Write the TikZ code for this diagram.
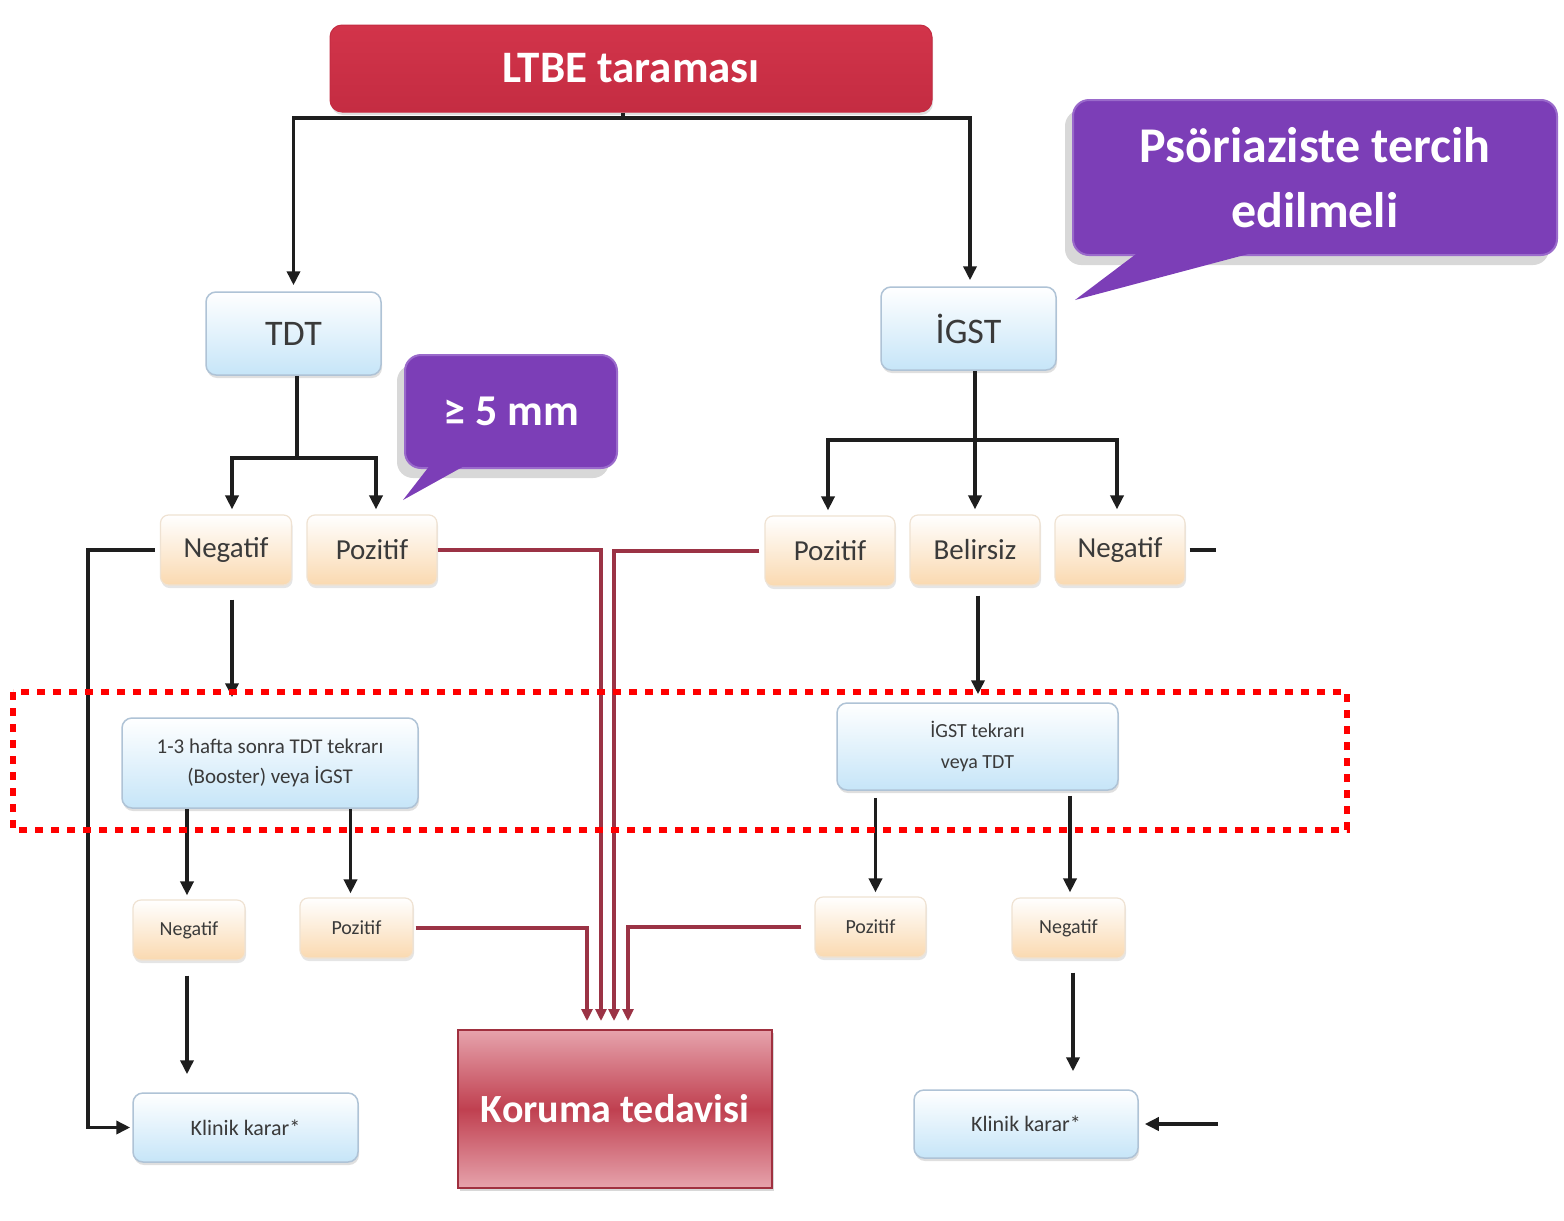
\documentclass[tikz,border=0pt]{standalone}
\usepackage{fontspec}
\setmainfont{Carlito}
\usetikzlibrary{arrows.meta,shadows,calc}
\definecolor{headred}{HTML}{D2344A}
\definecolor{headred2}{HTML}{C42C42}
\definecolor{korin}{HTML}{C04050}
\definecolor{korout}{HTML}{E6A3AC}
\definecolor{koredge}{HTML}{A0303F}
\definecolor{lblue}{HTML}{C6E5F8}
\definecolor{bedge}{HTML}{AFC3D6}
\definecolor{peach}{HTML}{FAD9B0}
\definecolor{pedge}{HTML}{EFE2D2}
\definecolor{txtc}{HTML}{3A3A3A}
\definecolor{lnc}{HTML}{1E1E1E}
\definecolor{lnred}{HTML}{9B3345}
\definecolor{purp}{HTML}{7C3EB7}
\definecolor{purpedge}{HTML}{9A6ACB}
\newcommand{\fsz}[2]{\fontsize{#1}{#2}\selectfont}
\tikzset{
  bluebox/.style={rounded corners=10pt, draw=bedge, line width=1.5pt, top color=white, bottom color=lblue,
    text=txtc, align=center, inner sep=0pt,
    drop shadow={shadow xshift=1pt, shadow yshift=-3pt, opacity=.25}},
  peachbox/.style={rounded corners=8pt, draw=pedge, line width=1.2pt, top color=white, bottom color=peach,
    text=txtc, align=center, inner sep=0pt,
    drop shadow={shadow xshift=1pt, shadow yshift=-3pt, opacity=.2}},
  calloutbox/.style={rounded corners=16pt, fill=purp, draw=purpedge, line width=2pt, text=white,
    align=center, inner sep=0pt, font=\bfseries,
    drop shadow={shadow xshift=-8pt, shadow yshift=-10pt, opacity=.3, fill=gray}},
  blk/.style={line width=3.6pt, draw=lnc},
  arr/.style={blk, -{Triangle[length=14pt,width=13pt]}},
  redln/.style={line width=3.6pt, draw=lnred, -{Triangle[length=12pt,width=11pt]}},
}
\begin{document}
\begin{tikzpicture}[x=1pt,y=-1pt]
\useasboundingbox (0,0) rectangle (1564,1221);
\fill[white] (0,0) rectangle (1564,1221);

% header
\node[rounded corners=12pt, top color=headred, bottom color=headred2, draw=headred2, line width=1pt,
  minimum width=602pt, minimum height=87pt, text=white, font=\bfseries\fsz{45}{54},
  drop shadow={shadow xshift=1pt, shadow yshift=-3pt, opacity=.25}] (ltbe) at (631,68.5) {LTBE taraması};

% level 2
\node[bluebox, minimum width=175pt, minimum height=83pt, font=\fsz{36}{44}] (tdt) at (293.5,333.5) {TDT};
\node[bluebox, minimum width=175pt, minimum height=83pt, font=\fsz{36}{44}] (igst) at (968.5,328.5) {İGST};

% level 3
\node[peachbox, minimum width=131pt, minimum height=70pt, font=\fsz{29}{35}] (negL) at (226,550) {Negatif};
\node[peachbox, minimum width=130pt, minimum height=70pt, font=\fsz{29}{35}] (posL) at (372,550) {Pozitif};
\node[peachbox, minimum width=130pt, minimum height=70pt, font=\fsz{29}{35}] (posR) at (830,551) {Pozitif};
\node[peachbox, minimum width=130pt, minimum height=70pt, font=\fsz{29}{35}] (bel) at (975,550) {Belirsiz};
\node[peachbox, minimum width=130pt, minimum height=70pt, font=\fsz{29}{35}] (negR) at (1120,550) {Negatif};

% level 4
\node[bluebox, minimum width=296pt, minimum height=90pt, font=\fsz{21}{30}] (booster) at (270,763)
  {1-3 hafta sonra TDT tekrarı\\(Booster) veya İGST};
\node[bluebox, minimum width=281pt, minimum height=87pt, font=\fsz{20}{31}] (igst2) at (977.5,746.5)
  {İGST tekrarı\\veya TDT};

% level 5
\node[peachbox, minimum width=112pt, minimum height=60pt, font=\fsz{20}{24}] (negSL) at (189,930) {Negatif};
\node[peachbox, minimum width=113pt, minimum height=60pt, font=\fsz{20}{24}] (posSL) at (356.5,928) {Pozitif};
\node[peachbox, minimum width=111pt, minimum height=60pt, font=\fsz{20}{24}] (posSR) at (870.5,927) {Pozitif};
\node[peachbox, minimum width=113pt, minimum height=60pt, font=\fsz{20}{24}] (negSR) at (1068.5,928) {Negatif};

% level 6
\node[bluebox, minimum width=225pt, minimum height=69pt, font=\fsz{22}{26}] (klinL) at (245.5,1127.5) {Klinik karar*};
\node[bluebox, minimum width=224pt, minimum height=68pt, font=\fsz{22}{26}] (klinR) at (1026,1124) {Klinik karar*};
\node[shading=axis, top color=korout, bottom color=korout, middle color=korin, draw=koredge, line width=2.5pt,
  minimum width=314pt, minimum height=158pt, text=white, font=\bfseries\fsz{40}{48},
  drop shadow={shadow xshift=2pt, shadow yshift=-3pt, opacity=.3}] (kor) at (615,1109) {Koruma tedavisi};

% callouts
\node[calloutbox, minimum width=212pt, minimum height=113pt, font=\bfseries\fsz{44}{52}] (c5) at (511,411.5) {≥ 5 mm};
\fill[purp] (438,455) -- (484,455) -- (403,500) -- cycle;
\node[calloutbox, minimum width=484pt, minimum height=155pt, font=\bfseries\fsz{50}{65}] (cps) at (1315,177.5)
  {Psöriaziste tercih\\edilmeli};
\fill[purp] (1148,245) -- (1282,245) -- (1075,300) -- cycle;

% black connectors
\coordinate (topj) at (623,118);
\draw[blk] (topj |- ltbe.south) -- (topj);
\draw[arr, shorten >=6pt] (topj) -| (tdt.north);
\draw[arr, shorten >=6pt] (topj) -| ([xshift=1.5pt]igst.north);

\coordinate (tdtj) at (297,458);
\draw[blk] (tdt.south -| tdtj) -- (tdtj);
\draw[arr, shorten >=5pt] (tdtj) -| ([xshift=6pt]negL.north);
\draw[arr, shorten >=5pt] (tdtj) -| ([xshift=4pt]posL.north);

\coordinate (igj) at (975,440);
\draw[blk] (igst.south -| igj) -- (igj);
\draw[arr, shorten >=5pt] (igj) -| ([xshift=-2pt]posR.north);
\draw[arr, shorten >=5pt] (igj) -| (bel.north);
\draw[arr, shorten >=5pt] (igj) -| ([xshift=-3pt]negR.north);

\draw[arr, shorten <=5pt, shorten >=2pt] (negL.west) -- ++(-72,0) |- (klinL.west);
\draw[arr, shorten <=14pt, shorten >=20pt] ([xshift=6pt]negL.south) -- ([xshift=6pt]negL.south |- booster.north);
\draw[arr, shorten >=4pt] ([xshift=-2pt]negSL.north |- booster.south) -- ([xshift=-2pt]negSL.north);
\draw[arr, shorten >=4pt] ([xshift=-6pt]posSL.north |- booster.south) -- ([xshift=-6pt]posSL.north);
\draw[arr, shorten <=15pt, shorten >=18pt] ([xshift=-2pt]negSL.south) -- ([xshift=-2pt]negSL.south |- klinL.north);

\draw[arr, shorten <=10pt, shorten >=8pt] ([xshift=3pt]bel.south) -- ([xshift=3pt]bel.south |- igst2.north);
\draw[arr, shorten <=7pt, shorten >=4pt] ([xshift=5pt]posSR.north |- igst2.south) -- ([xshift=5pt]posSR.north);
\draw[arr, shorten <=5pt, shorten >=5pt] ([xshift=1.5pt]negSR.north |- igst2.south) -- ([xshift=1.5pt]negSR.north);
\draw[arr, shorten <=14pt, shorten >=18pt] ([xshift=4.5pt]negSR.south) -- ([xshift=4.5pt]negSR.south |- klinR.north);

\draw[blk, shorten <=4pt] (negR.east) -- ++(30,0) coordinate (negRend);
\coordinate (kr) at (1218,1124);
\draw[arr, shorten >=6pt] (kr) -- (klinR.east);

% red connectors
\coordinate (kin) at (607.5,1030);
\draw[redln, shorten >=9pt] (posL.east) -| ([xshift=-6.5pt]kin);
\draw[redln, shorten >=9pt] ([xshift=-5pt]posR.west) -| ([xshift=6.5pt]kin);
\draw[redln, shorten >=9pt] ([xshift=2pt]posSL.east) -| ([xshift=-20.5pt]kin);
\draw[redln, shorten >=9pt] ([xshift=-13pt]posSR.west) -| ([xshift=20.5pt]kin);

% dotted highlight
\draw[red, line width=6pt, dash pattern=on 8pt off 8pt] (13,692) rectangle (1347,830);
\end{tikzpicture}
\end{document}
